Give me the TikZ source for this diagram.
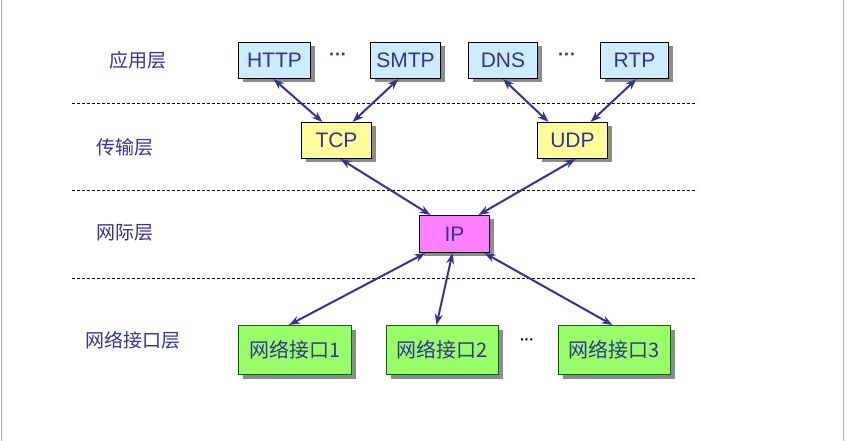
\documentclass[tikz,border=0pt]{standalone}
\usepackage{fontspec}
\setmainfont{Liberation Sans}
\newfontfamily\cjk{Noto Sans CJK SC}
\usetikzlibrary{arrows.meta,shadows}
\definecolor{tx}{RGB}{51,51,153}
\definecolor{bl}{RGB}{204,236,255}
\definecolor{yl}{RGB}{255,255,153}
\definecolor{pk}{RGB}{255,128,255}
\definecolor{gr}{RGB}{153,255,102}
\begin{document}
\begin{tikzpicture}[x=1pt,y=-1pt,
 box/.style={draw=black,line width=1pt,anchor=north west,inner sep=0pt,font=\fontsize{21}{21}\selectfont,text=tx,drop shadow={shadow xshift=4pt,shadow yshift=-4pt,fill=black!45,opacity=1}},
 cbox/.style={box,font=\cjk\fontsize{20}{20}\selectfont,draw=black!60!green},
 lab/.style={text=tx,font=\cjk\fontsize{19}{19}\selectfont},
 arr/.style={draw=tx,line width=2pt,{Stealth[length=11pt,width=8pt]}-{Stealth[length=11pt,width=8pt]}},
 sep/.style={densely dashed,line width=0.7pt}]
\useasboundingbox (0,0) rectangle (847,441);
\draw[black!30] (1,0)--(1,441) (843,0)--(843,441);
\node[box,fill=bl,minimum width=72,minimum height=36] (http) at (238,42) {HTTP};
\node[box,fill=bl,minimum width=70,minimum height=36] (smtp) at (370,42) {SMTP};
\node[box,fill=bl,minimum width=69,minimum height=36] (dns) at (468,42) {DNS};
\node[box,fill=bl,minimum width=68,minimum height=36] (rtp) at (600,42) {RTP};
\node[box,fill=yl,minimum width=70,minimum height=36] (tcp) at (301,122) {TCP};
\node[box,fill=yl,minimum width=70,minimum height=36] (udp) at (537,122) {UDP};
\node[box,fill=pk,minimum width=70,minimum height=37] (ip) at (419,215) {IP};
\node[cbox,fill=gr,minimum width=113,minimum height=49] (n1) at (238,325) {\raisebox{-4pt}{网络接口1}};
\node[cbox,fill=gr,minimum width=112,minimum height=49] (n2) at (386,325) {\raisebox{-1pt}{网络接口2}};
\node[cbox,fill=gr,minimum width=112,minimum height=49] (n3) at (558,325) {\raisebox{1pt}{网络接口3}};
\node[text=tx,font=\bfseries\fontsize{18}{18}\selectfont] (d1) at (338,57) {···};
\node[text=tx,font=\bfseries\fontsize{18}{18}\selectfont] (d2) at (567,57) {···};
\node[font=\bfseries\fontsize{14}{14}\selectfont] (d3) at (527,342) {···};
\node[lab] (l1) at (138,60) {应用层};
\node[lab] (l2) at (125,147) {传输层};
\node[lab] (l3) at (125,233) {网际层};
\node[lab] (l4) at (133,340) {网络接口层};
\coordinate (s1a) at (72,103); \coordinate (s1b) at (697,103);
\coordinate (s2a) at (72,190); \coordinate (s2b) at (697,190);
\coordinate (s3a) at (72,278); \coordinate (s3b) at (697,278);
\draw[sep] (s1a)--(s1b); \draw[sep] (s2a)--(s2b); \draw[sep] (s3a)--(s3b);
\draw[arr] ([xshift=-1]http.south) -- ([xshift=-14]tcp.north);
\draw[arr] ([xshift=-7]smtp.south) -- ([xshift=16]tcp.north);
\draw[arr] ([xshift=0]dns.south) -- ([xshift=-24]udp.north);
\draw[arr] ([xshift=2]rtp.south) -- ([xshift=18]udp.north);
\draw[arr] ([xshift=4]tcp.south) -- ([xshift=-24]ip.north);
\draw[arr] ([xshift=3]udp.south) -- ([xshift=24]ip.north);
\draw[arr] ([xshift=-29]ip.south) -- ([xshift=-6]n1.north);
\draw[arr] ([xshift=-2]ip.south) -- ([xshift=-6]n2.north);
\draw[arr] ([xshift=30]ip.south) -- ([xshift=-2]n3.north);
\end{tikzpicture}
\end{document}
